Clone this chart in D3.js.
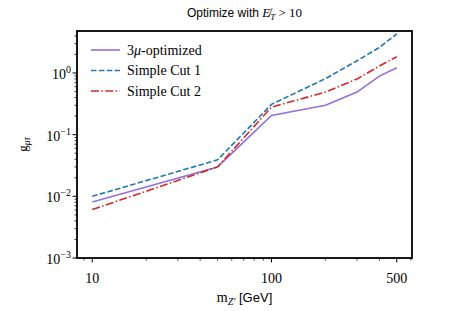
<!DOCTYPE html>
<html>
<head>
<meta charset="utf-8">
<script src="https://cdn.jsdelivr.net/npm/d3@7"></script>
<style>
  body { margin: 0; background: #fff; }
  svg { display: block; }
</style>
</head>
<body>
<svg id="chart" width="458" height="311"></svg>
<script>
const SERIF = "'Liberation Serif', 'DejaVu Serif', serif";
const SANS = "'Liberation Sans', 'DejaVu Sans', sans-serif";

const masses = [10, 50, 100, 200, 300, 400, 500];
const optimized = [0.0081, 0.030, 0.205, 0.30, 0.49, 0.89, 1.22];
const simpleCut1 = [0.0100, 0.039, 0.31, 0.81, 1.58, 2.6, 4.3];
const simpleCut2 = [0.0061, 0.030, 0.28, 0.49, 0.80, 1.30, 1.84];

const yMajor = [1e-3, 1e-2, 1e-1, 1e0];
const yExps = ["\u22123", "\u22122", "\u22121", "0"];
const xMajor = [10, 100, 500];
const xLabels = ["10", "100", "500"];

const series = [
  { name: "3\u03bc-optimized", values: optimized, color: "#9370db", dash: null },
  { name: "Simple Cut 1", values: simpleCut1, color: "#1f77b4", dash: "5.5,2.4" },
  { name: "Simple Cut 2", values: simpleCut2, color: "#d62728", dash: "8,2.4,1.5,2.4" }
];

const svg = d3.select("#chart");
const margin = { top: 31, right: 46, bottom: 53, left: 77 };
const width = 458, height = 311;

const x = d3.scaleLog()
  .domain([8.22, 608])
  .range([margin.left, width - margin.right]);

const y = d3.scaleLog()
  .domain([1e-3, 4.8])
  .range([height - margin.bottom, margin.top]);

// minor ticks
const xMinor = [];
for (const dec of [1, 10, 100]) {
  for (let k = 1; k <= 9; k++) {
    const v = k * dec;
    if (v >= x.domain()[0] && v <= x.domain()[1] && !xMajor.includes(v)) xMinor.push(v);
  }
}
const yMinor = [];
for (const dec of [1e-3, 1e-2, 1e-1, 1]) {
  for (let k = 2; k <= 9; k++) {
    const v = k * dec;
    if (v <= y.domain()[1]) yMinor.push(v);
  }
}

const y0 = height - margin.bottom;

svg.append("g")
  .selectAll("line")
  .data(xMinor)
  .join("line")
  .attr("x1", d => x(d)).attr("x2", d => x(d))
  .attr("y1", y0).attr("y2", y0 + 2.5)
  .attr("stroke", "#000").attr("stroke-width", 0.8);

svg.append("g")
  .selectAll("line")
  .data(xMajor)
  .join("line")
  .attr("x1", d => x(d)).attr("x2", d => x(d))
  .attr("y1", y0).attr("y2", y0 + 4.5)
  .attr("stroke", "#000").attr("stroke-width", 1);

svg.append("g")
  .selectAll("text")
  .data(xMajor)
  .join("text")
  .attr("font-family", SERIF)
  .attr("x", d => x(d))
  .attr("y", y0 + 25)
  .attr("text-anchor", "middle")
  .attr("font-size", 14)
  .text((d, i) => xLabels[i]);

svg.append("g")
  .selectAll("line")
  .data(yMinor)
  .join("line")
  .attr("x1", margin.left - 2.5).attr("x2", margin.left)
  .attr("y1", d => y(d)).attr("y2", d => y(d))
  .attr("stroke", "#000").attr("stroke-width", 0.8);

svg.append("g")
  .selectAll("line")
  .data(yMajor)
  .join("line")
  .attr("x1", margin.left - 4.5).attr("x2", margin.left)
  .attr("y1", d => y(d)).attr("y2", d => y(d))
  .attr("stroke", "#000").attr("stroke-width", 1);

const yl = svg.append("g")
  .selectAll("text")
  .data(yMajor)
  .join("text")
  .attr("font-family", SERIF)
  .attr("x", margin.left - 6)
  .attr("y", d => y(d) + 6)
  .attr("text-anchor", "end")
  .attr("font-size", 14);
yl.append("tspan").text("10");
yl.append("tspan").attr("dy", -6).attr("font-size", 10).text((d, i) => yExps[i]);

// lines
const line = d3.line()
  .x((d, i) => x(masses[i]))
  .y(d => y(d));

svg.append("g")
  .selectAll("path")
  .data(series)
  .join("path")
  .attr("d", d => line(d.values))
  .attr("fill", "none")
  .attr("stroke", d => d.color)
  .attr("stroke-width", 1.6)
  .attr("stroke-dasharray", d => d.dash);

// frame
svg.append("rect")
  .attr("x", margin.left)
  .attr("y", margin.top)
  .attr("width", width - margin.left - margin.right)
  .attr("height", height - margin.top - margin.bottom)
  .attr("fill", "none")
  .attr("stroke", "#000")
  .attr("stroke-width", 1.8);

// legend
const legend = svg.append("g")
  .selectAll("g")
  .data(series)
  .join("g")
  .attr("transform", (d, i) => `translate(91,${50 + i * 20.5})`);

legend.append("line")
  .attr("x1", 0).attr("x2", 29)
  .attr("stroke", d => d.color)
  .attr("stroke-width", 1.6)
  .attr("stroke-dasharray", d => d.dash);

const legText = legend.append("text")
  .attr("font-family", SERIF)
  .attr("x", 36)
  .attr("y", 4.5)
  .attr("font-size", 14);
legText.each(function(d, i) {
  const t = d3.select(this);
  if (i === 0) {
    t.append("tspan").text("3");
    t.append("tspan").attr("font-style", "italic").text("\u03bc");
    t.append("tspan").text("-optimized");
  } else {
    t.text(d.name);
  }
});

// title
const cx = (margin.left + width - margin.right) / 2;
const title = svg.append("text")
  .attr("x", cx)
  .attr("y", 17)
  .attr("text-anchor", "middle")
  .attr("font-size", 12);
title.append("tspan").attr("font-family", SANS).text("Optimize with ");
title.append("tspan").attr("font-family", SERIF).attr("font-style", "italic").attr("font-size", 13).text("E\u0338");
title.append("tspan").attr("font-family", SERIF).attr("font-style", "italic").attr("font-size", 9).attr("dy", 3).text("T");
title.append("tspan").attr("font-family", SERIF).attr("font-size", 13).attr("dy", -3).text(" > 10");

// x label
const xl = svg.append("text")
  .attr("x", cx)
  .attr("y", 302)
  .attr("text-anchor", "middle")
  .attr("font-size", 13);
xl.append("tspan").attr("font-family", SERIF).attr("font-size", 14).text("m");
xl.append("tspan").attr("font-family", SERIF).attr("font-style", "italic").attr("font-size", 10).attr("dy", 3).text("Z\u2032");
xl.append("tspan").attr("font-family", SANS).attr("dy", -3).text(" [GeV]");

// y label
const ylab = svg.append("text")
  .attr("transform", `translate(27,${(margin.top + height - margin.bottom) / 2}) rotate(-90)`)
  .attr("text-anchor", "middle")
  .attr("font-family", SERIF);
ylab.append("tspan").attr("font-size", 13).text("g");
ylab.append("tspan").attr("font-style", "italic").attr("font-size", 9.5).attr("dy", 3).text("\u03bc\u03c4");
</script>
</body>
</html>
